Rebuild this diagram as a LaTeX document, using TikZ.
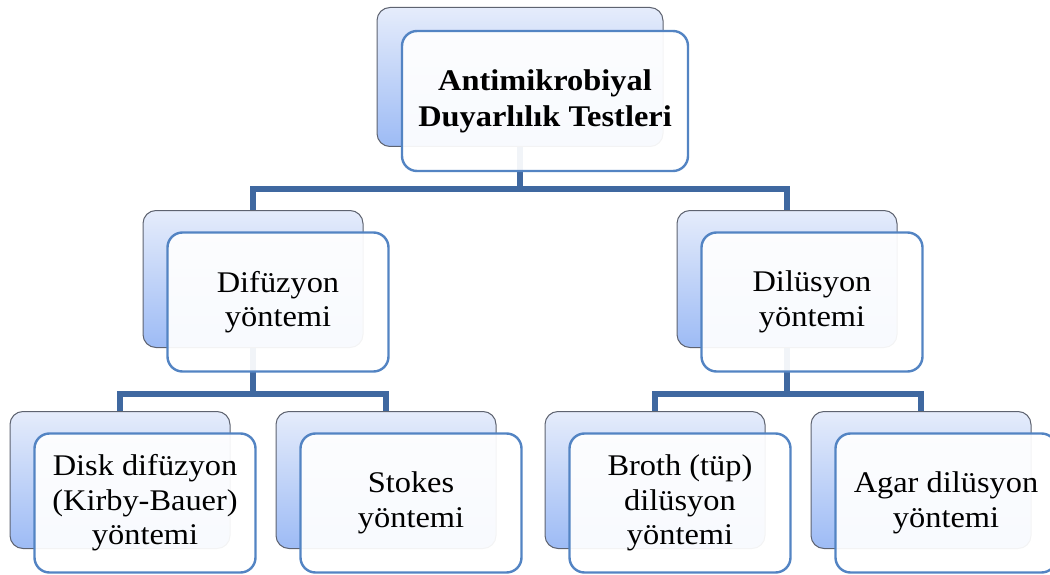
\documentclass[tikz,border=0pt]{standalone}
\usepackage{fontspec}
\setmainfont[FakeStretch=1.08]{Liberation Serif}
\usepackage{tikz}
\usetikzlibrary{positioning,backgrounds}
\definecolor{cBackTop}{HTML}{E5ECFB}
\definecolor{cBackBot}{HTML}{9DBBF5}
\definecolor{cEdge}{HTML}{5E6370}
\definecolor{cFrame}{HTML}{5384C3}
\definecolor{cLink}{HTML}{3F68A0}
\tikzset{
  fig/back/.style ={draw=cEdge, line width=1pt, rounded corners=13pt,
                    top color=cBackTop, bottom color=cBackBot,
                    minimum width=220pt, minimum height=137pt, inner sep=0pt},
  fig/front/.style={draw=cFrame, line width=2.4pt, rounded corners=15pt,
                    fill=white, fill opacity=0.93, text opacity=1,
                    minimum width=221pt, minimum height=139pt, inner sep=2pt,
                    align=center, font=\fontsize{30}{34.5}\selectfont},
  fig/link/.style ={draw=cLink, line width=5.5pt},
}

\begin{document}
\begin{tikzpicture}[x=1pt, y=-1pt]
    \useasboundingbox (0,0) rectangle (1050,575);
    % top level
    \node[fig/back, minimum width=286pt, minimum height=139pt] (Tb) at (520,77) {};
    \node[fig/front, minimum width=286pt, minimum height=140pt,
          font=\fontsize{30}{36}\selectfont\bfseries] (T) at (545,101)
          {Antimikrobiyal\\Duyarlılık Testleri};
    % second level
    \node[fig/back] (Db) at (253,279) {};
    \node[fig/front] (D) at (278,302) {Difüzyon\\yöntemi};
    \node[fig/back] (Lb) at (787,279) {};
    \node[fig/front] (L) at (812,302) {Dilüsyon\\yöntemi};
    % third level
    \foreach \n/\xpos/\txt in {K/120/{Disk difüzyon\\(Kirby-Bauer)\\yöntemi},
                               S/386/{Stokes\\yöntemi},
                               B/655/{Broth (tüp)\\dilüsyon\\yöntemi},
                               A/921/{Agar dilüsyon\\yöntemi}} {
      \node[fig/back] (\n b) at (\xpos,480) {};
      \node[fig/front] (\n) at (\xpos+25,503) {\txt};
    }
    % connectors behind the boxes
    \coordinate (bus1) at (0,189);
    \coordinate (bus2) at (0,394);
    \begin{scope}[on background layer]
      \draw[fig/link] (Tb.center) -- (Tb.center |- bus1) -| (Db.center);
      \draw[fig/link] (Tb.center |- bus1) -| (Lb.center);
      \draw[fig/link] (Db.center) -- (Db.center |- bus2) -| (Kb.center);
      \draw[fig/link] (Db.center |- bus2) -| (Sb.center);
      \draw[fig/link] (Lb.center) -- (Lb.center |- bus2) -| (Bb.center);
      \draw[fig/link] (Lb.center |- bus2) -| (Ab.center);
    \end{scope}
\end{tikzpicture}
\end{document}
